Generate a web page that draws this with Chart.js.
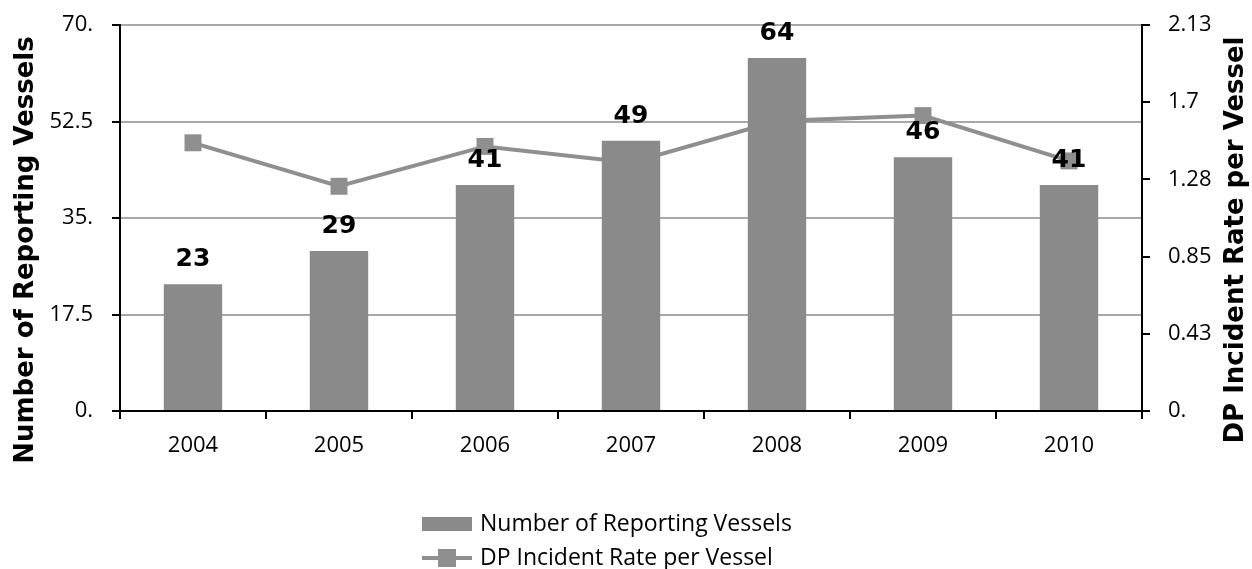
<!DOCTYPE html>
<html>
<head>
<meta charset="utf-8">
<title>Number of Reporting Vessels / DP Incident Rate</title>
<script src="https://cdn.jsdelivr.net/npm/chart.js@4.4.1/dist/chart.umd.min.js"></script>
<style>
  html, body { margin: 0; padding: 0; background: #fff; }
  #wrap { position: relative; width: 1252px; height: 569px; }
</style>
</head>
<body>
<div id="wrap"><canvas id="chart"></canvas></div>
<script>
// data
const years = ['2004', '2005', '2006', '2007', '2008', '2009', '2010'];
const vessels = [23, 29, 41, 49, 64, 46, 41];
const incidentRate = [1.48, 1.24, 1.46, 1.37, 1.60, 1.63, 1.38];

const leftTicks = [0, 17.5, 35, 52.5, 70];
const leftTickLabels = ['0.', '17.5', '35.', '52.5', '70.'];
const rightTicks = [0, 0.426, 0.852, 1.278, 1.704, 2.13];
const rightTickLabels = ['0.', '0.43', '0.85', '1.28', '1.7', '2.13'];

const leftTitle = 'Number of Reporting Vessels';
const rightTitle = 'DP Incident Rate per Vessel';

const barGrey = '#8a8a8a';
const lineGrey = '#8f8f8f';
const tickFont = { family: 'Open Sans', size: 22 };

// value labels above the bars
const barLabels = {
  id: 'barLabels',
  afterDatasetsDraw(chart) {
    const ctx = chart.ctx;
    const meta = chart.getDatasetMeta(0);
    ctx.save();
    ctx.font = 'bold 25px "DejaVu Sans"';
    ctx.fillStyle = '#000';
    ctx.textAlign = 'center';
    ctx.textBaseline = 'alphabetic';
    meta.data.forEach(function (bar, i) {
      ctx.fillText(String(chart.data.datasets[0].data[i]), bar.x, bar.y - 18);
    });
    ctx.restore();
  }
};

// rotated axis titles (placed like the original, not centred on the plot)
const axisTitles = {
  id: 'axisTitles',
  afterDraw(chart) {
    const ctx = chart.ctx;
    ctx.save();
    ctx.font = 'bold 26px "DejaVu Sans"';
    ctx.fillStyle = '#000';
    ctx.textAlign = 'center';
    ctx.textBaseline = 'alphabetic';
    ctx.translate(33, 250);
    ctx.rotate(-Math.PI / 2);
    ctx.fillText(leftTitle, 0, 0);
    ctx.restore();

    ctx.save();
    ctx.font = 'bold 26px "DejaVu Sans"';
    ctx.fillStyle = '#000';
    ctx.textAlign = 'center';
    ctx.textBaseline = 'alphabetic';
    ctx.translate(1243, 240);
    ctx.rotate(-Math.PI / 2);
    ctx.fillText(rightTitle, 0, 0);
    ctx.restore();
  }
};

// stacked legend under the chart
const stackedLegend = {
  id: 'stackedLegend',
  afterDraw(chart) {
    const ctx = chart.ctx;
    const x0 = 422;
    ctx.save();
    ctx.font = '23px "Open Sans"';
    ctx.textBaseline = 'middle';
    ctx.textAlign = 'left';
    chart.data.datasets.forEach(function (ds, i) {
      const y = 524 + i * 34;
      if (ds.type === 'line') {
        ctx.strokeStyle = ds.borderColor;
        ctx.lineWidth = 4;
        ctx.beginPath();
        ctx.moveTo(x0, y);
        ctx.lineTo(x0 + 50, y);
        ctx.stroke();
        ctx.fillStyle = ds.pointBackgroundColor;
        ctx.fillRect(x0 + 16, y - 9, 18, 18);
      } else {
        ctx.fillStyle = ds.backgroundColor;
        ctx.fillRect(x0, y - 7, 50, 14);
      }
      ctx.fillStyle = '#000';
      ctx.fillText(ds.label, x0 + 58, y);
    });
    ctx.restore();
  }
};

const ctx = document.getElementById('chart').getContext('2d');
new Chart(ctx, {
  data: {
    labels: years,
    datasets: [
      {
        type: 'bar',
        label: 'Number of Reporting Vessels',
        data: vessels,
        yAxisID: 'y',
        backgroundColor: barGrey,
        barPercentage: 0.4,
        categoryPercentage: 1.0,
        order: 0
      },
      {
        type: 'line',
        label: 'DP Incident Rate per Vessel',
        data: incidentRate,
        yAxisID: 'y1',
        borderColor: lineGrey,
        borderWidth: 4,
        pointStyle: 'rect',
        pointRadius: 12,
        pointBorderWidth: 0,
        pointBackgroundColor: lineGrey,
        tension: 0,
        order: 1
      }
    ]
  },
  options: {
    responsive: true,
    maintainAspectRatio: false,
    animation: false,
    layout: { padding: { top: 25, bottom: 103, left: 0, right: 0 } },
    plugins: {
      legend: { display: false },
      tooltip: { enabled: false }
    },
    scales: {
      x: {
        offset: true,
        grid: {
          offset: true,
          drawOnChartArea: false,
          color: '#000',
          lineWidth: 2,
          tickLength: 8
        },
        border: { color: '#000', width: 2 },
        ticks: { color: '#000', font: tickFont, padding: 14, maxRotation: 0 },
        afterFit(scale) { scale.height = 55; }
      },
      y: {
        position: 'left',
        min: 0,
        max: 70,
        afterBuildTicks(scale) { scale.ticks = leftTicks.map(v => ({ value: v })); },
        grid: {
          color: c => (c.tick && c.tick.value === 0 ? 'rgba(0,0,0,0)' : '#a8a8a8'),
          lineWidth: 2,
          tickColor: '#000',
          tickLength: 8
        },
        border: { color: '#000', width: 2 },
        ticks: {
          color: '#000',
          font: tickFont,
          padding: 19,
          callback: (v, i) => leftTickLabels[i]
        },
        afterFit(scale) {
          scale.width = 120;
          scale.paddingTop = 0;
          scale.paddingBottom = 0;
        }
      },
      y1: {
        position: 'right',
        min: 0,
        max: 2.13,
        afterBuildTicks(scale) { scale.ticks = rightTicks.map(v => ({ value: v })); },
        grid: {
          drawOnChartArea: false,
          tickColor: '#000',
          lineWidth: 2,
          tickLength: 8
        },
        border: { color: '#000', width: 2 },
        ticks: {
          color: '#000',
          font: tickFont,
          padding: 18,
          callback: (v, i) => rightTickLabels[i]
        },
        afterFit(scale) {
          scale.width = 110;
          scale.paddingTop = 0;
          scale.paddingBottom = 0;
        }
      }
    }
  },
  plugins: [barLabels, axisTitles, stackedLegend]
});
</script>
</body>
</html>
